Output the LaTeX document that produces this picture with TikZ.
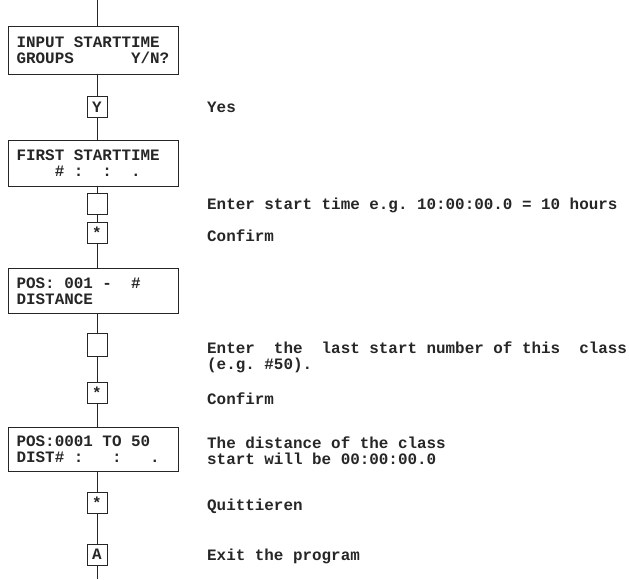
\documentclass[tikz,border=0pt]{standalone}
\usepackage{fontspec}
\setmonofont{Liberation Mono}
\newcommand{\fixsp}{\spaceskip=0pt\xspaceskip=0pt\relax}
\begin{document}
\begin{tikzpicture}[x=1pt,y=-1pt,
  txt/.style={font=\ttfamily\bfseries\fontsize{15.9}{16}\selectfont, text=black!85},
  bigbox/.style={txt, draw=black!85, line width=1.2pt, anchor=north west,
    minimum height=46pt, inner xsep=8pt, inner ysep=0pt, align=left, text width=154pt},
  keybox/.style={txt, draw=black!85, line width=1pt, minimum width=20pt, minimum height=21pt, inner sep=0pt},
  lbl/.style={txt, anchor=west, inner sep=0pt, align=left},
  conn/.style={draw=black!85, line width=1pt}]
\useasboundingbox (0,0) rectangle (629,579);
\coordinate (top) at (97,0);
\coordinate (bot) at (97,579);
% big boxes
\node[bigbox, minimum height=48pt] (b1) at (8,26) {\fixsp INPUT STARTTIME\\GROUPS\ \ \ \ \ \ Y/N?};
\node[bigbox] (b2) at (8,140) {\fixsp FIRST STARTTIME\\\mbox{}\ \ \ \ \# :\ \ :\ \ .};
\node[bigbox, minimum height=45pt] (b3) at (8,268) {\fixsp POS: 001 -\ \ \#\\DISTANCE};
\node[bigbox, minimum height=44pt] (b4) at (8,427) {\fixsp POS:0001 TO 50\\DIST\# :\ \ \ :\ \ \ .};
% key boxes
\node[keybox] (k1) at (97,107) {Y};
\node[keybox] (k2) at (97,204) {};
\node[keybox] (k3) at (97,233) {\raisebox{-4pt}{*}};
\node[keybox, minimum height=23pt] (k4) at (97,344.5) {};
\node[keybox] (k5) at (97,392.5) {\raisebox{-4pt}{*}};
\node[keybox] (k6) at (97,503) {\raisebox{-4pt}{*}};
\node[keybox] (k7) at (97,554.5) {A};
% labels
\node[lbl] (l1) at (207,107) {Yes};
\node[lbl] (l2) at (207,205) {Enter start time e.g. 10:00:00.0 = 10 hours};
\node[lbl] (l3) at (207,236) {Confirm};
\node[lbl] (l4) at (207,357) {Enter\ \ the\ \ last start number of this\ \ class\\(e.g. \#50).};
\node[lbl] (l5) at (207,399) {Confirm};
\node[lbl] (l6) at (207,451) {The distance of the class\\start will be 00:00:00.0};
\node[lbl] (l7) at (207,506) {Quittieren};
\node[lbl] (l8) at (207,556) {Exit the program};
% connectors
\draw[conn] (top) -- (b1.north -| top);
\draw[conn] (b1.south -| top) -- (k1.north);
\draw[conn] (k1.south) -- (b2.north -| top);
\draw[conn] (b2.south -| top) -- (k2.north);
\draw[conn] (k2.south) -- (k3.north);
\draw[conn] (k3.south) -- (b3.north -| top);
\draw[conn] (b3.south -| top) -- (k4.north);
\draw[conn] (k4.south) -- (k5.north);
\draw[conn] (k5.south) -- (b4.north -| top);
\draw[conn] (b4.south -| top) -- (k6.north);
\draw[conn] (k6.south) -- (k7.north);
\draw[conn] (k7.south) -- (bot);
\end{tikzpicture}
\end{document}
